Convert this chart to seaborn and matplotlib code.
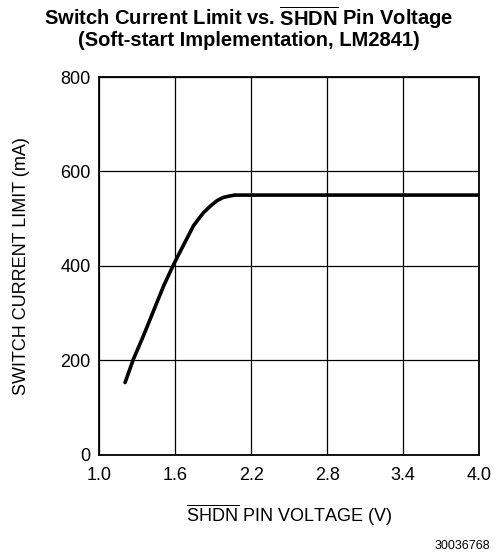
import matplotlib
matplotlib.use("Agg")
import pandas as pd
from matplotlib import pyplot as plt
import seaborn as sns

# curve
voltage = [1.205, 1.27, 1.35, 1.43, 1.51, 1.59, 1.67, 1.745, 1.79, 1.825, 1.88, 1.93, 1.98, 2.03, 2.07, 2.11, 2.5, 3.0, 3.5, 4.0]
current = [153, 202, 252, 305, 358, 404, 446, 485, 501, 513, 527, 538, 545, 548, 550, 550, 550, 550, 550, 550]

x_ticks = [1.0, 1.6, 2.2, 2.8, 3.4, 4.0]
y_ticks = [0, 200, 400, 600, 800]

df = pd.DataFrame({"voltage": voltage, "current": current})

sns.set_style("white")
plt.rcParams["font.family"] = ["Liberation Sans", "DejaVu Sans"]
plt.rcParams["text.color"] = "black"
plt.rcParams["axes.labelcolor"] = "black"
plt.rcParams["mathtext.fontset"] = "custom"
plt.rcParams["mathtext.rm"] = "Liberation Sans"
plt.rcParams["mathtext.bf"] = "Liberation Sans:bold"

fig = plt.figure(figsize=(4.98, 5.54), dpi=100)
ax = fig.add_axes([0.199, 0.179, 0.763, 0.682])

sns.lineplot(data=df, x="voltage", y="current", ax=ax, color="black", linewidth=2.6,
             estimator=None, sort=False)

ax.set_xlim(1.0, 4.0)
ax.set_ylim(0, 800)
ax.set_xticks(x_ticks)
ax.set_xticklabels([f"{t:.1f}" for t in x_ticks])
ax.set_yticks(y_ticks)
ax.grid(True, color="black", linewidth=0.9)
for s in ax.spines.values():
    s.set_color("black")
    s.set_linewidth(1.3)
ax.tick_params(axis="both", labelsize=13, length=0, colors="black")
ax.tick_params(axis="x", pad=9)
ax.tick_params(axis="y", pad=6)

ax.set_xlabel(r"$\overline{\mathrm{SHDN}}$ PIN VOLTAGE (V)", fontsize=13)
ax.set_ylabel("SWITCH CURRENT LIMIT (mA)", fontsize=13)
ax.xaxis.set_label_coords(0.5, -0.125)
ax.yaxis.set_label_coords(-0.183, 0.5)

fig.text(0.5, 1 - 25 / 554, r"Switch Current Limit vs. $\mathbf{\overline{SHDN}}$ Pin Voltage",
         ha="center", va="baseline", fontsize=14.5, fontweight="bold")
fig.text(0.5, 1 - 46 / 554, "(Soft-start Implementation, LM2841)",
         ha="center", va="baseline", fontsize=14.5, fontweight="bold")
fig.text(0.984, 0.004, "30036768", ha="right", va="bottom", fontsize=9)

fig.savefig("out.png", dpi=100)
plt.close()
